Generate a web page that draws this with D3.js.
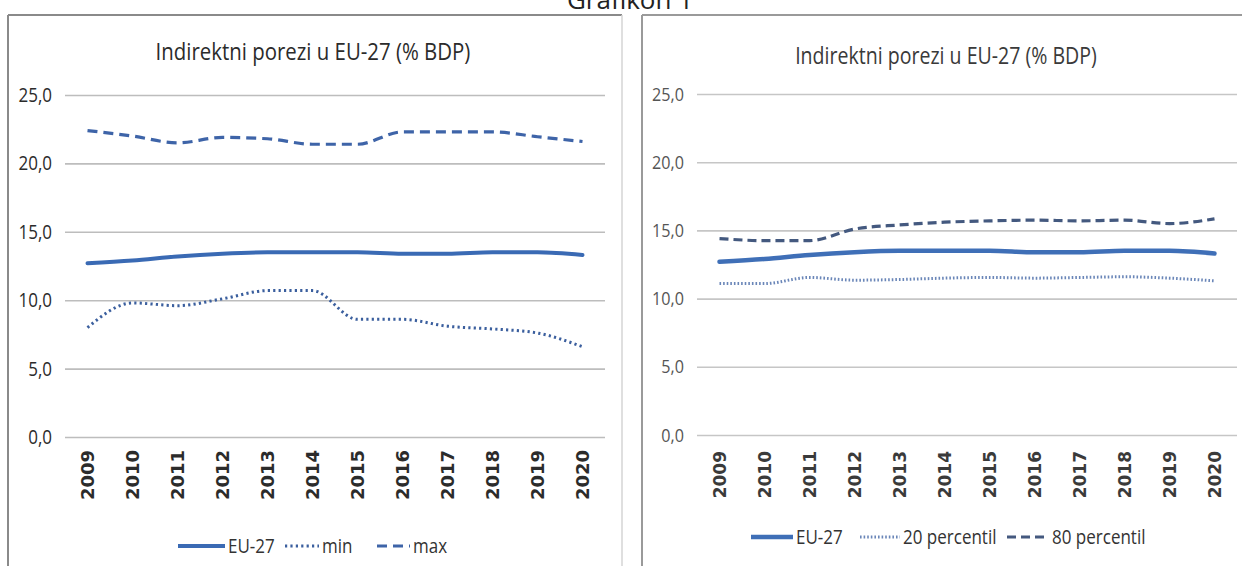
<!DOCTYPE html>
<html>
<head>
<meta charset="utf-8">
<script src="https://cdn.jsdelivr.net/npm/d3@7"></script>
<style>
  body { margin: 0; background: #fff; }
  svg { display: block; }
</style>
</head>
<body>
<div id="chart"></div>
<script>
// values
var years = ["2009", "2010", "2011", "2012", "2013", "2014", "2015", "2016", "2017", "2018", "2019", "2020"];
var yTicks = [0, 5, 10, 15, 20, 25];
var eu27 = [12.7, 12.9, 13.2, 13.4, 13.5, 13.5, 13.5, 13.4, 13.4, 13.5, 13.5, 13.3];
var minVals = [8.0, 9.8, 9.6, 10.1, 10.7, 10.7, 8.6, 8.6, 8.1, 7.9, 7.6, 6.6];
var maxVals = [22.4, 22.0, 21.5, 21.9, 21.8, 21.4, 21.4, 22.3, 22.3, 22.3, 21.95, 21.6];
var p20 = [11.1, 11.1, 11.55, 11.35, 11.4, 11.5, 11.55, 11.5, 11.55, 11.6, 11.5, 11.3];
var p80 = [14.4, 14.25, 14.25, 15.1, 15.4, 15.6, 15.7, 15.75, 15.7, 15.75, 15.5, 15.85];
var chartTitle = "Indirektni porezi u EU-27 (% BDP)";
var pageTitle = "Grafikon 1";

var W = 1242, H = 566;
var SQ = 0.85; // the picture is a bit squeezed sideways

var svg = d3.select("#chart").append("svg")
    .attr("width", W)
    .attr("height", H);

svg.append("text")
    .attr("x", 630).attr("y", 9)
    .attr("text-anchor", "middle")
    .style("font-family", "Open Sans")
    .style("font-size", "26px")
    .style("fill", "#222")
    .text(pageTitle);

var panels = [
  {
    left: 8, right: 622, top: 15,
    edge: "#8a8a8a", rightEdge: "#d4d4d4",
    x0: 65, x1: 605, yBottom: 437, yTop: 95,
    titleX: 313, titleY: 60, titleSize: 24, titleColor: "#2b2b2b",
    tickColor: "#2b2b2b", tickSize: 20, grid: "#bdbdbd",
    yearSize: 18, yearColor: "#2b2b2b", yearGap: 13,
    legendY: 546,
    series: [
      {name: "EU-27", values: eu27, color: "#3a6ab4", width: 4, dash: null, lx: 178, len: 47},
      {name: "min", values: minVals, color: "#3b5f9e", width: 3, dash: "2.2,3.2", lx: 285, len: 34},
      {name: "max", values: maxVals, color: "#3e64a8", width: 3.2, dash: "10,6", lx: 377, len: 33}
    ]
  },
  {
    left: 642, right: 1250, top: 15,
    edge: "#9a9a9a", rightEdge: "none",
    x0: 697, x1: 1237, yBottom: 435, yTop: 94,
    titleX: 946, titleY: 64, titleSize: 23, titleColor: "#3a3a3a",
    tickColor: "#555", tickSize: 19, grid: "#c6c6c6",
    yearSize: 17, yearColor: "#3a3a3a", yearGap: 16,
    legendY: 537,
    series: [
      {name: "EU-27", values: eu27, color: "#3f6fb7", width: 4.5, dash: null, lx: 751, len: 42},
      {name: "20 percentil", values: p20, color: "#6a86b8", width: 3, dash: "1.6,2", lx: 860, len: 40},
      {name: "80 percentil", values: p80, color: "#44597f", width: 3.2, dash: "9,5", lx: 1007, len: 42}
    ]
  }
];

panels.forEach(function(p) {
  var g = svg.append("g");

  // frame
  g.append("line").attr("x1", p.left).attr("x2", p.right).attr("y1", p.top).attr("y2", p.top)
    .style("stroke", p.edge).style("stroke-width", 2);
  g.append("line").attr("x1", p.left).attr("x2", p.left).attr("y1", p.top).attr("y2", H + 5)
    .style("stroke", p.edge).style("stroke-width", 2);
  if (p.rightEdge != "none") {
    g.append("line").attr("x1", p.right).attr("x2", p.right).attr("y1", p.top).attr("y2", H + 5)
      .style("stroke", p.rightEdge).style("stroke-width", 1.5);
  }

  g.append("text")
    .attr("class", "sq")
    .attr("x", p.titleX).attr("y", p.titleY)
    .attr("text-anchor", "middle")
    .style("font-family", "Open Sans")
    .style("font-size", p.titleSize + "px")
    .style("fill", p.titleColor)
    .text(chartTitle);

  var x = d3.scaleBand().domain(years).range([p.x0, p.x1]);
  var y = d3.scaleLinear().domain([0, 25]).range([p.yBottom, p.yTop]);

  // y axis + gridlines
  var yAxis = g.append("g")
    .attr("transform", "translate(" + p.x0 + ",0)")
    .call(d3.axisLeft(y).tickValues(yTicks)
      .tickSize(-(p.x1 - p.x0)).tickPadding(13)
      .tickFormat(function(d) { return d3.format(".1f")(d).replace(".", ","); }));
  yAxis.select(".domain").remove();
  yAxis.selectAll(".tick line").style("stroke", p.grid).style("stroke-width", 1.6);
  yAxis.selectAll(".tick text")
    .attr("class", "sq")
    .style("font-family", "Open Sans")
    .style("font-size", p.tickSize + "px")
    .style("fill", p.tickColor);

  // x axis, rotated year labels
  var xAxis = g.append("g")
    .attr("transform", "translate(0," + p.yBottom + ")")
    .call(d3.axisBottom(x).tickSize(0));
  xAxis.select(".domain").remove();
  xAxis.selectAll(".tick text")
    .attr("transform", "rotate(-90)")
    .attr("x", -p.yearGap).attr("y", 0).attr("dy", "0.36em")
    .attr("text-anchor", "end")
    .style("font-family", "DejaVu Sans")
    .style("font-weight", "bold")
    .style("font-size", p.yearSize + "px")
    .style("fill", p.yearColor);

  var line = d3.line()
    .x(function(d, i) { return x(years[i]) + x.bandwidth() / 2; })
    .y(function(d) { return y(d); })
    .curve(d3.curveMonotoneX);

  p.series.forEach(function(s) {
    g.append("path")
      .datum(s.values)
      .attr("d", line)
      .style("fill", "none")
      .style("stroke", s.color)
      .style("stroke-width", s.width)
      .style("stroke-dasharray", s.dash)
      .style("stroke-linecap", s.dash ? "butt" : "round");

    // legend entry
    g.append("line")
      .attr("x1", s.lx).attr("x2", s.lx + s.len)
      .attr("y1", p.legendY).attr("y2", p.legendY)
      .style("stroke", s.color)
      .style("stroke-width", s.width)
      .style("stroke-dasharray", s.dash);
    g.append("text")
      .attr("class", "sq")
      .attr("x", s.lx + s.len + 3).attr("y", p.legendY)
      .attr("dy", "0.35em")
      .style("font-family", "Open Sans")
      .style("font-size", "20px")
      .style("fill", "#333")
      .text(s.name);
  });
});

// squeeze texts sideways like the picture
svg.selectAll(".sq").each(function() {
  var len = this.getComputedTextLength();
  d3.select(this).attr("textLength", len * SQ).attr("lengthAdjust", "spacingAndGlyphs");
});
</script>
</body>
</html>
